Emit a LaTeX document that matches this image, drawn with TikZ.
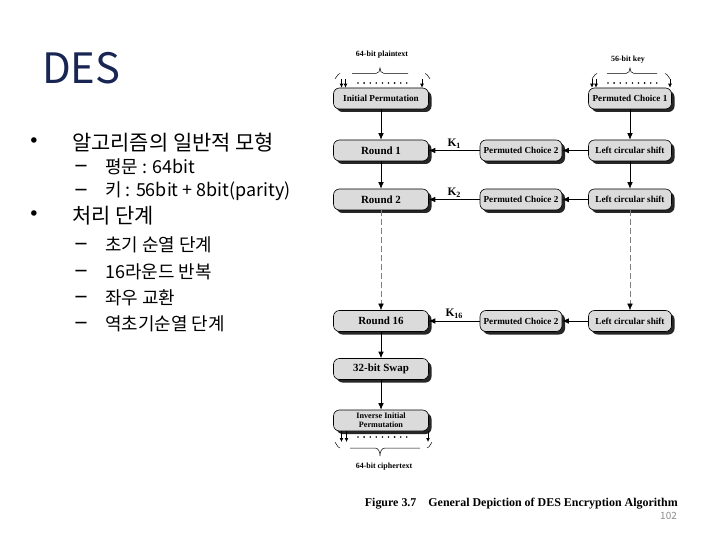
\documentclass[tikz,border=0pt]{standalone}
\usepackage{fontspec}
\setmainfont{Liberation Serif}
\newfontfamily\krfont{Noto Sans CJK KR}
\newfontfamily\markfont{DejaVu Sans}
\usetikzlibrary{arrows.meta,shadows}
\definecolor{titleblue}{RGB}{25,38,84}
\newcommand{\bitdots}[2]{\foreach \i in {0,...,8} \fill ({#1+\i*6.1},#2) circle (0.9bp);}

\tikzset{
  desbox/.style={draw, line width=0.6bp, rounded corners=6bp, fill=black!14, minimum height=21bp,
    inner sep=1bp, align=center, font=\bfseries\fontsize{9.2}{10}\selectfont,
    drop shadow={shadow xshift=3bp, shadow yshift=-3bp, fill=black!85, opacity=1}},
  roundbox/.style={desbox, minimum width=95bp, font=\bfseries\fontsize{11}{12}\selectfont},
  keybox/.style={desbox, minimum width=83bp},
  pcbox/.style={desbox, minimum width=82bp},
  flow/.style={-{Latex[length=6.5bp,width=5.5bp]}, line width=0.7bp},
  feed/.style={-{Latex[length=4bp,width=4bp]}, line width=1bp},
  skip/.style={-{Latex[length=6.5bp,width=5.5bp,black]}, gray, line width=0.5bp, dash pattern=on 6bp off 3bp},
  klabel/.style={anchor=south, inner sep=1bp, yshift=1bp, font=\bfseries\fontsize{11.5}{11.5}\selectfont},
  bitlabel/.style={inner sep=0pt, font=\bfseries\fontsize{8}{9}\selectfont},
  lvlone/.style={anchor=west, inner sep=0pt, font=\krfont\fontsize{21}{24}\selectfont},
  lvltwo/.style={anchor=west, inner sep=0pt, font=\krfont\fontsize{18}{21}\selectfont},
  bulletmark/.style={anchor=center, inner sep=0pt, font=\markfont\fontsize{19}{19}\selectfont},
  dashmark/.style={anchor=center, inner sep=0pt, font=\markfont\bfseries\fontsize{12.5}{13}\selectfont}
}

\begin{document}
\begin{tikzpicture}[x=1bp, y=-1bp]
  \useasboundingbox (0,0) rectangle (720,540);

  % slide text
  \node[anchor=west, inner sep=0pt, text=titleblue, font=\krfont\fontsize{42}{46}\selectfont] (title) at (42,68) {DES};

  \node[bulletmark] (b1) at (34,143) {•};
  \node[lvlone] (t1) at (72,143) {알고리즘의 일반적 모형};
  \node[dashmark] (d1) at (81,167) {—};
  \node[lvltwo] (t11) at (105,167) {평문 : 64bit};
  \node[dashmark] (d2) at (81,191) {—};
  \node[lvltwo] (t12) at (105,191) {키 : 56bit + 8bit(parity)};
  \node[bulletmark] (b2) at (34,216) {•};
  \node[lvlone] (t2) at (72,216) {처리 단계};
  \node[dashmark] (d3) at (81,245) {—};
  \node[lvltwo] (t21) at (105,245) {초기 순열 단계};
  \node[dashmark] (d4) at (81,272) {—};
  \node[lvltwo] (t22) at (105,272) {16라운드 반복};
  \node[dashmark] (d5) at (81,298) {—};
  \node[lvltwo] (t23) at (105,298) {좌우 교환};
  \node[dashmark] (d6) at (81,324) {—};
  \node[lvltwo] (t24) at (105,324) {역초기순열 단계};

  % data column
  \node[bitlabel] (plain) at (382,55) {64-bit plaintext};
  \node[desbox, minimum width=95bp] (ip) at (381,98.5) {Initial Permutation};
  \node[roundbox] (r1) at (381,150.5) {Round 1};
  \node[roundbox] (r2) at (381,199.5) {Round 2};
  \node[roundbox] (r16) at (381,321) {Round 16};
  \node[roundbox] (swap) at (381,369) {32-bit Swap};
  \node[desbox, minimum width=95bp, font=\bfseries\fontsize{8.2}{9}\selectfont] (iip) at (381,420.5) {Inverse Initial\\Permutation};
  \node[bitlabel] (cipher) at (384,467) {64-bit ciphertext};

  % key column
  \node[bitlabel] (key) at (628,60) {56-bit key};
  \node[keybox] (pc1) at (630,98.5) {Permuted Choice 1};
  \node[keybox] (ls1) at (630,150.5) {Left circular shift};
  \node[keybox] (ls2) at (630,199.5) {Left circular shift};
  \node[keybox] (ls16) at (630,321) {Left circular shift};
  \node[pcbox] (pc2a) at (521,150.5) {Permuted Choice 2};
  \node[pcbox] (pc2b) at (521,199.5) {Permuted Choice 2};
  \node[pcbox] (pc2c) at (521,321) {Permuted Choice 2};

  % braces and bit rows
  \draw[line width=0.5bp] (335,78) to[out=-90,in=180] (340,73.5);
  \draw[line width=0.5bp] (352,73.5) -- (376,73.5) to[out=0,in=-90] (380,68) to[out=-90,in=180] (384,73.5) -- (408,73.5);
  \draw[line width=0.5bp] (425,73.5) to[out=0,in=-90] (430,78);
  \draw[line width=0.5bp] (592,78) to[out=-90,in=180] (597,73.5);
  \draw[line width=0.5bp] (607,73.5) -- (626,73.5) to[out=0,in=-90] (630,68) to[out=-90,in=180] (634,73.5) -- (657,73.5);
  \draw[line width=0.5bp] (665,73.5) to[out=0,in=-90] (670,78);
  \draw[line width=0.5bp] (335,443) to[out=90,in=180] (340,448);
  \draw[line width=0.5bp] (350,448) -- (375,448) to[out=0,in=90] (380,456) to[out=90,in=180] (385,448) -- (420,448);
  \draw[line width=0.5bp] (427,448) to[out=0,in=90] (432,443);
  \bitdots{358}{83}
  \bitdots{608}{83}
  \bitdots{358}{437}

  \coordinate (in1) at (341.5,79);
  \coordinate (in2) at (345.5,79);
  \coordinate (in3) at (422,79);
  \coordinate (k1) at (592,79);
  \coordinate (k2) at (596,79);
  \coordinate (k3) at (670,79);
  \coordinate (out1) at (341.5,442);
  \coordinate (out2) at (346.5,442);
  \coordinate (out3) at (428,442);
  \draw[feed] (in1) -- (in1 |- ip.north);
  \draw[feed] (in2) -- (in2 |- ip.north);
  \draw[feed] (in3) -- (in3 |- ip.north);
  \draw[feed] (k1) -- (k1 |- pc1.north);
  \draw[feed] (k2) -- (k2 |- pc1.north);
  \draw[feed] (k3) -- (k3 |- pc1.north);
  \draw[feed] (out1 |- iip.south) -- (out1);
  \draw[feed] (out2 |- iip.south) -- (out2);
  \draw[feed] (out3 |- iip.south) -- (out3);

  % connectors
  \draw[flow] (ip) -- (r1);
  \draw[flow] (r1) -- (r2);
  \draw[skip] (r2) -- (r16);
  \draw[flow] (r16) -- (swap);
  \draw[flow] (swap) -- (iip);
  \draw[flow] (pc1) -- (ls1);
  \draw[flow] (ls1) -- (ls2);
  \draw[skip] (ls2) -- (ls16);
  \draw[flow] (ls1) -- (pc2a);
  \draw[flow] (ls2) -- (pc2b);
  \draw[flow] (ls16) -- (pc2c);
  \draw[flow] (pc2a) -- node[klabel] {K\textsubscript{1}} (r1);
  \draw[flow] (pc2b) -- node[klabel] {K\textsubscript{2}} (r2);
  \draw[flow] (pc2c) -- node[klabel] {K\textsubscript{16}} (r16);

  \node[anchor=east, inner sep=0pt, font=\bfseries\fontsize{12}{13}\selectfont] (caption) at (678,504) {Figure 3.7\hspace{1em}General Depiction of DES Encryption Algorithm};
  \node[anchor=east, inner sep=0pt, text=black!45, font=\krfont\fontsize{10}{12}\selectfont] (pagenum) at (677,516) {102};
\end{tikzpicture}
\end{document}
